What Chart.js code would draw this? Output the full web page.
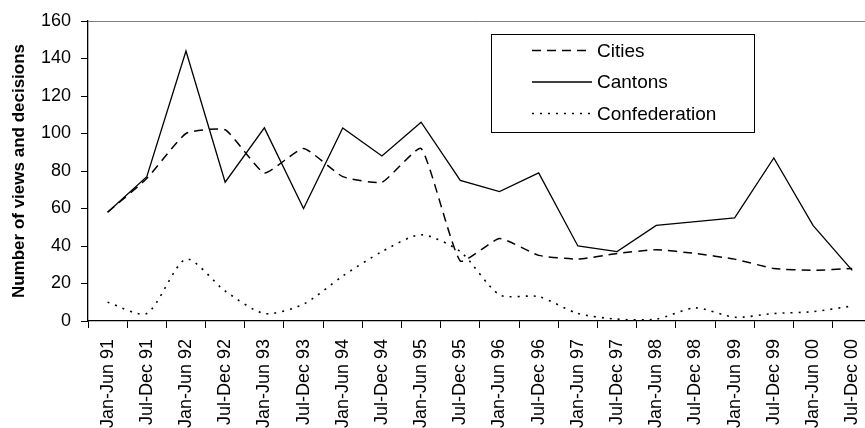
<!DOCTYPE html>
<html lang="en">
  <head>
    <meta charset="UTF-8" />
    <title>Views and decisions</title>
    <style>
      html, body { margin: 0; padding: 0; background: #fff; overflow: hidden; }
      #wrap { width: 885px; height: 428px; }
    </style>
  </head>
  <body>
    <div id="wrap"><canvas id="viewsChart"></canvas></div>
    <script src="https://cdn.jsdelivr.net/npm/chart.js"></script>
    <script>
      const periods = [
        "Jan-Jun 91", "Jul-Dec 91", "Jan-Jun 92", "Jul-Dec 92", "Jan-Jun 93",
        "Jul-Dec 93", "Jan-Jun 94", "Jul-Dec 94", "Jan-Jun 95", "Jul-Dec 95",
        "Jan-Jun 96", "Jul-Dec 96", "Jan-Jun 97", "Jul-Dec 97", "Jan-Jun 98",
        "Jul-Dec 98", "Jan-Jun 99", "Jul-Dec 99", "Jan-Jun 00", "Jul-Dec 00",
      ];
      const cities = [58, 76, 100, 102, 79, 92, 77, 74, 92, 32, 44, 35, 33, 36, 38, 36, 33, 28, 27, 28];
      const cantons = [58, 77, 144, 74, 103, 60, 103, 88, 106, 75, 69, 79, 40, 37, 51, 53, 55, 87, 51, 27];
      const confederation = [10, 4, 33, 16, 4, 9, 24, 37, 46, 37, 14, 13, 4, 1, 1, 7, 2, 4, 5, 8];
      const yTicks = [0, 20, 40, 60, 80, 100, 120, 140, 160];

      const font = "'Liberation Sans', Arial, sans-serif";

      // grey frame line along the top of the plot
      const topLine = {
        id: "topLine",
        beforeDatasetsDraw(chart) {
          const { ctx, chartArea } = chart;
          ctx.save();
          ctx.strokeStyle = "#808080";
          ctx.lineWidth = 1;
          ctx.beginPath();
          ctx.moveTo(chartArea.left, chartArea.top + 0.5);
          ctx.lineTo(chartArea.right, chartArea.top + 0.5);
          ctx.stroke();
          ctx.restore();
        },
      };

      // legend box drawn inside the plot, like the original
      const boxLegend = {
        id: "boxLegend",
        afterDraw(chart) {
          const ctx = chart.ctx;
          ctx.save();
          ctx.strokeStyle = "#000";
          ctx.lineWidth = 1;
          ctx.setLineDash([]);
          ctx.strokeRect(491.5, 34.5, 263, 98);
          const rows = [50.5, 82, 113.5];
          chart.data.datasets.forEach((ds, i) => {
            ctx.beginPath();
            ctx.setLineDash(ds.borderDash || []);
            ctx.lineWidth = ds.borderWidth;
            ctx.moveTo(532, rows[i]);
            ctx.lineTo(592, rows[i]);
            ctx.stroke();
            ctx.setLineDash([]);
            ctx.fillStyle = "#000";
            ctx.font = "19px " + font;
            ctx.textBaseline = "middle";
            ctx.fillText(ds.label, 597, rows[i] + 1);
          });
          ctx.restore();
        },
      };

      new Chart(document.getElementById("viewsChart"), {
        type: "line",
        data: {
          labels: periods,
          datasets: [
            {
              label: "Cities",
              data: cities,
              borderColor: "#000",
              borderWidth: 1.5,
              borderDash: [9, 6],
              tension: 0.15,
              pointRadius: 0,
              fill: false,
            },
            {
              label: "Cantons",
              data: cantons,
              borderColor: "#000",
              borderWidth: 1.3,
              tension: 0,
              pointRadius: 0,
              fill: false,
            },
            {
              label: "Confederation",
              data: confederation,
              borderColor: "#000",
              borderWidth: 1.6,
              borderDash: [2, 6],
              tension: 0.25,
              pointRadius: 0,
              fill: false,
            },
          ],
        },
        options: {
          responsive: true,
          maintainAspectRatio: false,
          animation: false,
          layout: { padding: { top: 21, right: 8, left: 0, bottom: 0 } },
          plugins: {
            legend: { display: false },
            tooltip: { enabled: false },
          },
          scales: {
            x: {
              offset: true,
              grid: {
                offset: true,
                drawOnChartArea: false,
                color: "#000",
                tickLength: 7,
              },
              border: { color: "#000", width: 1.3 },
              ticks: {
                color: "#000",
                font: { family: font, size: 18 },
                minRotation: 90,
                maxRotation: 90,
                autoSkip: false,
                padding: 11,
              },
              afterFit(scale) {
                scale.height = 107;
              },
            },
            y: {
              min: 0,
              max: 160,
              afterBuildTicks(scale) {
                scale.ticks = yTicks.map((v) => ({ value: v }));
              },
              grid: {
                drawOnChartArea: false,
                color: "#000",
                tickLength: 7,
              },
              border: { color: "#000", width: 1.3 },
              ticks: {
                color: "#000",
                font: { family: font, size: 18 },
                padding: 10,
              },
              title: {
                display: true,
                text: "Number of views and decisions",
                color: "#000",
                font: { family: font, size: 17, weight: "bold" },
                padding: { top: 9, bottom: 4 },
              },
              afterFit(scale) {
                scale.width = 88;
              },
            },
          },
        },
        plugins: [topLine, boxLegend],
      });
    </script>
  </body>
</html>
